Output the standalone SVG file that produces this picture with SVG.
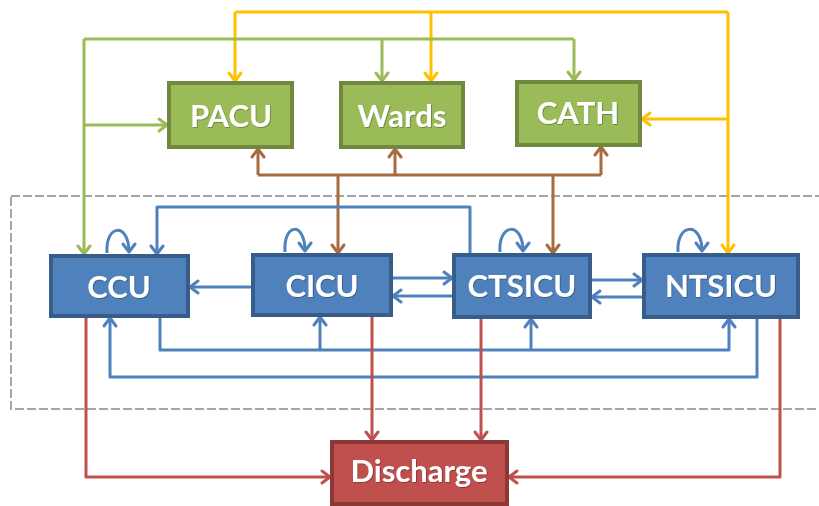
<svg xmlns="http://www.w3.org/2000/svg" width="819" height="506" viewBox="0 0 819 506">
<style>
.box text{font-family:Lato,"Liberation Sans",sans-serif;font-weight:bold;font-size:31px;fill:#ffffff;text-anchor:middle;filter:url(#ts)}
.g rect{fill:#9BBB59;stroke:#71893F;stroke-width:4}
.b rect{fill:#4F81BD;stroke:#385D8A;stroke-width:4}
.r rect{fill:#C0504D;stroke:#8C3836;stroke-width:4}
.c{fill:none;stroke-width:3;stroke-linejoin:round}
.y{stroke:#FFC000;marker-end:url(#my)}
.gr{stroke:#9BBB59;marker-end:url(#mg)}
.br{stroke:#A66B3E;marker-end:url(#mb)}
.bl{stroke:#4F81BD;marker-end:url(#mbl)}
.rd{stroke:#C0504D;marker-end:url(#mr)}
.nm{marker-end:none}
</style>
<defs>
<filter id="ts" x="-10%" y="-20%" width="120%" height="140%"><feDropShadow dx="0.8" dy="0.8" stdDeviation="0.6" flood-color="#000" flood-opacity="0.35"/></filter>
<marker id="my" markerUnits="userSpaceOnUse" markerWidth="20" markerHeight="20" refX="0" refY="0" viewBox="-12 -10 14 20" orient="auto"><path d="M-8,-6 L0,0 L-8,6" fill="none" stroke="#FFC000" stroke-width="3" stroke-linecap="round" stroke-linejoin="round"/></marker>
<marker id="mg" markerUnits="userSpaceOnUse" markerWidth="20" markerHeight="20" refX="0" refY="0" viewBox="-12 -10 14 20" orient="auto"><path d="M-8,-6 L0,0 L-8,6" fill="none" stroke="#9BBB59" stroke-width="3" stroke-linecap="round" stroke-linejoin="round"/></marker>
<marker id="mb" markerUnits="userSpaceOnUse" markerWidth="20" markerHeight="20" refX="0" refY="0" viewBox="-12 -10 14 20" orient="auto"><path d="M-8,-6 L0,0 L-8,6" fill="none" stroke="#A66B3E" stroke-width="3" stroke-linecap="round" stroke-linejoin="round"/></marker>
<marker id="mbl" markerUnits="userSpaceOnUse" markerWidth="20" markerHeight="20" refX="0" refY="0" viewBox="-12 -10 14 20" orient="auto"><path d="M-8,-6 L0,0 L-8,6" fill="none" stroke="#4F81BD" stroke-width="3" stroke-linecap="round" stroke-linejoin="round"/></marker>
<marker id="mr" markerUnits="userSpaceOnUse" markerWidth="20" markerHeight="20" refX="0" refY="0" viewBox="-12 -10 14 20" orient="auto"><path d="M-8,-6 L0,0 L-8,6" fill="none" stroke="#C0504D" stroke-width="3" stroke-linecap="round" stroke-linejoin="round"/></marker>
</defs>
<rect x="0" y="0" width="819" height="506" fill="#ffffff"/>
<rect id="icu-region" x="11" y="196" width="830" height="213" fill="none" stroke="#A6A6A6" stroke-width="2" stroke-dasharray="9,3"/>
<g id="connectors">
<!-- yellow -->
<path class="c y nm" d="M235,12 H728"/>
<path class="c y" d="M235,12 V81"/>
<path class="c y" d="M431,12 V81"/>
<path class="c y" d="M728,12 V253"/>
<path class="c y" d="M728,119 H642"/>
<!-- green -->
<path class="c gr nm" d="M84,39 H574"/>
<path class="c gr" d="M574,39 V80"/>
<path class="c gr" d="M382,39 V81"/>
<path class="c gr" d="M84,39 V254"/>
<path class="c gr" d="M84,125 H167"/>
<!-- brown -->
<path class="c br nm" d="M258,175 H601"/>
<path class="c br" d="M258,175 V149"/>
<path class="c br" d="M395,175 V149"/>
<path class="c br" d="M601,175 V147"/>
<path class="c br" d="M338,175 V253"/>
<path class="c br" d="M553,175 V253"/>
<!-- blue -->
<path class="c bl" d="M470,253 V207 H157 V254"/>
<path class="c bl" d="M251,287 H190"/>
<path class="c bl" d="M393,278 H452"/>
<path class="c bl" d="M452,296 H393"/>
<path class="c bl" d="M592,280 H642"/>
<path class="c bl" d="M642,297 H592"/>
<path class="c bl" d="M160,318 V350 H729 V319"/>
<path class="c bl" d="M320,350 V317"/>
<path class="c bl" d="M531,350 V319"/>
<path class="c bl" d="M757,319 V377 H110 V318"/>
<path class="c bl" d="M107,253 C105,224 129,222 129,252"/>
<path class="c bl" d="M285,252 C283,223 305,221 305,251"/>
<path class="c bl" d="M500,252 C498,223 523,221 523,251"/>
<path class="c bl" d="M678,252 C676,223 702,221 702,251"/>
<!-- red -->
<path class="c rd" d="M86,318 V477 H330"/>
<path class="c rd" d="M372,317 V440"/>
<path class="c rd" d="M481,319 V440"/>
<path class="c rd" d="M780,319 V477 H509"/>
</g>
<g id="PACU" class="box g"><rect x="169" y="83" width="123" height="64"/><text x="231" y="127">PACU</text></g>
<g id="Wards" class="box g"><rect x="341" y="83" width="122" height="64"/><text x="402" y="127">Wards</text></g>
<g id="CATH" class="box g"><rect x="517" y="82" width="123" height="63"/><text x="578" y="124">CATH</text></g>
<g id="CCU" class="box b"><rect x="51" y="256" width="137" height="60"/><text x="119" y="298">CCU</text></g>
<g id="CICU" class="box b"><rect x="253" y="255" width="138" height="60"/><text x="322" y="297">CICU</text></g>
<g id="CTSICU" class="box b"><rect x="454" y="255" width="136" height="62"/><text x="522" y="297">CTSICU</text></g>
<g id="NTSICU" class="box b"><rect x="644" y="255" width="154" height="62"/><text x="721" y="297">NTSICU</text></g>
<g id="Discharge" class="box r"><rect x="332" y="442" width="175" height="62"/><text x="419" y="482">Discharge</text></g>
</svg>
